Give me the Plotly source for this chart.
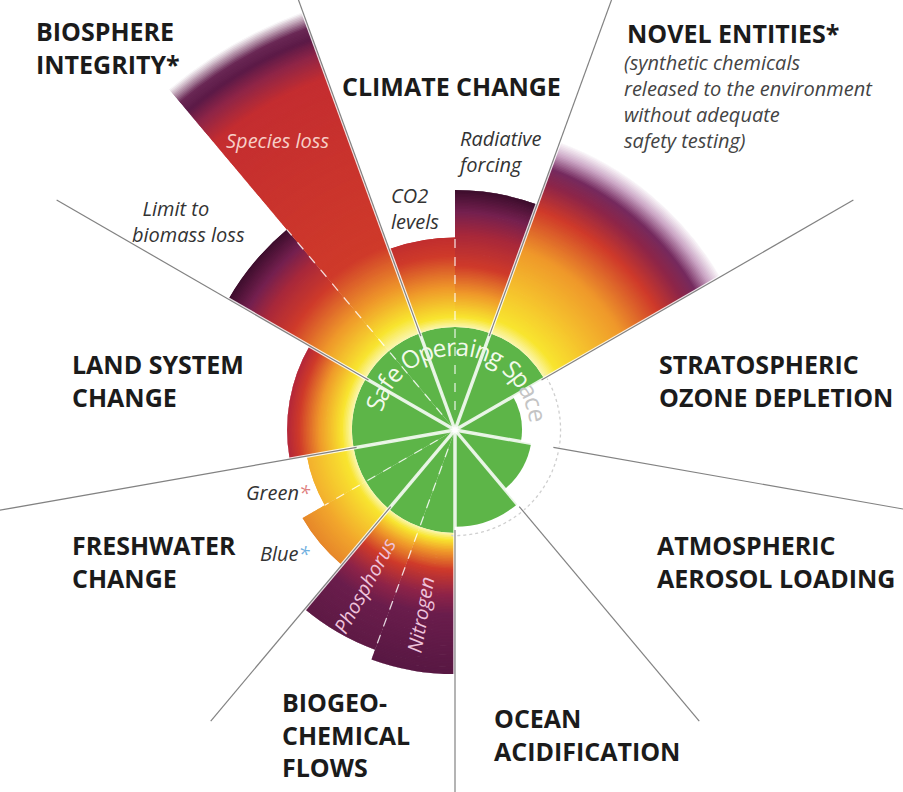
import numpy as np
import plotly.graph_objects as go

# ---------------- data (radial values in multiples of the safe boundary) ----------------
sub_names = ["CO2 levels", "Radiative forcing", "Novel entities", "Ozone depletion",
             "Aerosol loading", "Ocean acidification", "Phosphorus", "Nitrogen",
             "Green water", "Blue water", "Land system change", "Limit to biomass loss",
             "Species loss"]
sub_theta = [100, 80, 50, 10, -30, -70, -120, -100, -160, -140, 170, 140, 120]
sub_width = [20, 20, 40, 40, 40, 40, 20, 20, 20, 20, 40, 20, 20]
sub_value = [1.87, 2.33, 2.97, 0.65, 0.75, 0.94, 2.27, 2.37, 1.46, 1.71, 1.63, 2.54, 4.32]

sector_edges = [110, 70, 30, -10, -50, -90, -130, 190, 150]
sub_dividers = [90, 130, -150, -110]          # dashed lines inside split sectors

category_labels = [
    ["BIOSPHERE", "INTEGRITY*"],
    ["CLIMATE CHANGE"],
    ["NOVEL ENTITIES*"],
    ["LAND SYSTEM", "CHANGE"],
    ["FRESHWATER", "CHANGE"],
    ["STRATOSPHERIC", "OZONE DEPLETION"],
    ["ATMOSPHERIC", "AEROSOL LOADING"],
    ["BIOGEO-", "CHEMICAL", "FLOWS"],
    ["OCEAN", "ACIDIFICATION"],
]
novel_note = ["(synthetic chemicals", "released to the environment",
              "without adequate", "safety testing)"]
safe_text = "Safe Operaing Space"

# ---------------- style ----------------
W, H = 903, 792
CX, CY = 455, 430          # centre in pixels
PX = 103.0                 # pixels per boundary unit
GREEN = "#5db548"
GLOW, YEL, YO, ORA, RED, CRIM, PUR, DARK = ("#fbf6b0", "#f8e52f", "#f5c02d", "#ef982a",
                                            "#cf3a2a", "#a8283a", "#74204f", "#3c0d2c")
grad = {
    "CO2 levels": [(103, GLOW), (113, YEL), (142, ORA), (174, RED), (193, "#c02d2f")],
    "Radiative forcing": [(103, GLOW), (113, YEL), (137, ORA), (164, RED), (195, CRIM),
                          (218, PUR), (240, DARK)],
    "Novel entities": [(103, GLOW), (117, YEL), (152, YO), (192, ORA), (235, RED),
                       (262, "#8e2548"), (278, "#752a5e"), (293, "#c9a3c3"), (307, "#ffffff")],
    "Phosphorus": [(103, GLOW), (110, YEL), (125, ORA), (145, RED), (170, "#8e2348"),
                   (190, "#6a1d4c"), (234, "#5e1a45")],
    "Nitrogen": [(103, GLOW), (110, YEL), (122, ORA), (140, RED), (165, "#8e2348"),
                 (185, "#6a1d4c"), (244, "#581843")],
    "Green water": [(103, GLOW), (112, YEL), (150, "#f3b02e")],
    "Blue water": [(103, GLOW), (112, YEL), (150, "#f2a62c"), (176, "#e6872a")],
    "Land system change": [(103, GLOW), (113, YEL), (136, ORA), (156, RED), (168, "#b3263a")],
    "Limit to biomass loss": [(103, GLOW), (116, YEL), (152, ORA), (190, RED), (220, CRIM),
                              (240, PUR), (262, DARK)],
    "Species loss": [(103, GLOW), (120, YEL), (152, ORA), (196, RED), (375, "#c42d30"),
                     (400, "#8e2547"), (416, "#5c1a47"), (428, "#6a2855"), (445, "#ffffff")],
}
line_len = {110: 460, 70: 460, 30: 460, -10: 460, -50: 380, -90: 380, -130: 380,
            190: 465, 150: 460}
# label placement: left edge x, centre y of each line (pixels from top-left)
category_pos = [(37, [33, 62]), (343, [86]), (628, [33]), (73, [364, 397]),
                (73, [546, 577]), (660, [365, 396]), (658, [546, 577]),
                (283, [701, 735, 766]), (495, [717, 751])]


def hex2rgb(h):
    h = h.lstrip("#")
    return np.array([int(h[i:i + 2], 16) for i in (0, 2, 4)], float)


def color_at(stops, rpx):
    rs = [s[0] for s in stops]
    if rpx <= rs[0]:
        c = hex2rgb(stops[0][1])
    elif rpx >= rs[-1]:
        c = hex2rgb(stops[-1][1])
    else:
        i = np.searchsorted(rs, rpx) - 1
        t = (rpx - rs[i]) / (rs[i + 1] - rs[i])
        c = hex2rgb(stops[i][1]) * (1 - t) + hex2rgb(stops[i + 1][1]) * t
    return "rgb(%d,%d,%d)" % tuple(np.round(c).astype(int))


fig = go.Figure()

# safe operating space (green) part of each wedge
fig.add_trace(go.Barpolar(
    theta=sub_theta, r=[min(v, 1.0) for v in sub_value], width=sub_width,
    marker=dict(color=GREEN, line=dict(width=0)), subplot="polar", hoverinfo="skip"))

# transgressed parts drawn as radial gradients
DR = 1.5
for name, th, wd, v in zip(sub_names, sub_theta, sub_width, sub_value):
    if v <= 1.0:
        continue
    stops = grad[name]
    r_px = np.arange(PX, v * PX, DR)
    bases = r_px / PX
    lens = np.minimum(DR + 0.9, v * PX - r_px) / PX
    cols = [color_at(stops, rp + DR / 2) for rp in r_px]
    fig.add_trace(go.Barpolar(
        theta=[th] * len(r_px), base=bases, r=lens, width=[wd] * len(r_px),
        marker=dict(color=cols, line=dict(width=0)),
        subplot="polar2" if name == "Species loss" else "polar", hoverinfo="skip"))

# dotted boundary arc for sectors inside the safe space
arc_t = np.linspace(-92, 32, 120)
fig.add_trace(go.Scatterpolar(theta=arc_t, r=[1.025] * len(arc_t), mode="lines",
                              line=dict(color="#cfcfcf", width=1.3, dash="dot"),
                              subplot="polar", hoverinfo="skip"))

# invisible cartesian trace so the pixel-space axes exist for shapes/annotations
fig.add_trace(go.Scatter(x=[None], y=[None], xaxis="x", yaxis="y", hoverinfo="skip"))

shapes = []
for a in sector_edges:
    L = line_len[a]
    ca, sa = np.cos(np.radians(a)), np.sin(np.radians(a))
    shapes.append(dict(type="line", xref="x", yref="y", x0=0, y0=0, x1=L * ca, y1=L * sa,
                       line=dict(color="rgba(255,255,255,0.85)", width=3.5), layer="above"))
    shapes.append(dict(type="line", xref="x", yref="y", x0=PX * 0.97 * ca, y0=PX * 0.97 * sa,
                       x1=L * ca, y1=L * sa,
                       line=dict(color="#828282", width=1.2), layer="above"))
for a in sub_dividers:
    near = [v for th, wd, v in zip(sub_theta, sub_width, sub_value)
            if wd == 20 and abs(((th - a + 180) % 360) - 180) == 10]
    L = min(near) * PX
    ca, sa = np.cos(np.radians(a)), np.sin(np.radians(a))
    shapes.append(dict(type="line", xref="x", yref="y", x0=20 * ca, y0=20 * sa,
                       x1=L * ca, y1=L * sa,
                       line=dict(color="rgba(255,255,255,0.8)", width=1.3, dash="dash"),
                       layer="above"))

ann = []


def P(px, py):
    return px - CX, CY - py


BOLD = dict(family="Open Sans", size=25, color="#1b1b1b")
ITAL = 20

for lines, (lx, ys) in zip(category_labels, category_pos):
    x, y = P(lx - 3, float(np.mean(ys)))
    ann.append(dict(x=x, y=y, xref="x", yref="y",
                    text="<br>".join("<b>%s</b>" % t for t in lines),
                    showarrow=False, xanchor="left", yanchor="middle", align="left",
                    font=BOLD))

x, y = P(622, 101)
ann.append(dict(x=x, y=y, xref="x", yref="y",
                text="<br>".join("<i>%s</i>" % t for t in novel_note), showarrow=False,
                xanchor="left", yanchor="middle", align="left",
                font=dict(family="Open Sans", size=ITAL, color="#444444")))

sub_labels = [
    ("Species loss", 277, 140, "center", 0, "#f7cfc7"),
    ("&nbsp;&nbsp;Limit to<br>biomass loss", 130, 221, "left", 0, "#333333"),
    ("CO2<br>levels", 389, 208.5, "left", 0, "#333333"),
    ("Radiative<br>forcing", 455, 151.5, "left", 0, "#333333"),
    ("Green<span style='color:#e08080'>*</span>", 313, 492, "right", 0, "#333333"),
    ("Blue<span style='color:#70b0e0'>*</span>", 313, 553, "right", 0, "#333333"),
    ("Phosphorus", 364, 586, "center", -61, "#efc3dc"),
    ("Nitrogen", 420, 615, "center", -80, "#efc3dc"),
]
for txt, px, py, xa, ang, col in sub_labels:
    x, y = P(px, py)
    ann.append(dict(x=x, y=y, xref="x", yref="y",
                    text="<br>".join("<i>%s</i>" % t for t in txt.split("<br>")),
                    showarrow=False, xanchor=xa, yanchor="middle", textangle=ang,
                    align="left",
                    font=dict(family="Open Sans", size=ITAL, color=col)))

# curved "Safe Operaing Space" text
cw = {"S": .55, "a": .56, "f": .33, "e": .56, " ": .26, "O": .78, "p": .61, "r": .41,
      "i": .26, "n": .61, "g": .55, "c": .48}
FS, RT, PHI0 = 24.5, 84.0, 86.0
total = sum(cw[c] for c in safe_text) * FS / RT
start = np.radians(PHI0) + total / 2
cum = 0.0
for ch in safe_text:
    w = cw[ch] * FS / RT
    phi = start - cum - w / 2
    cum += w
    if ch == " ":
        continue
    deg = np.degrees(phi)
    col = "#c4c4c4" if deg < 30 else "#f2faea"
    ann.append(dict(x=RT * np.cos(phi), y=RT * np.sin(phi), xref="x", yref="y", text=ch,
                    showarrow=False, xanchor="center", yanchor="middle",
                    textangle=90 - deg,
                    font=dict(family="Open Sans", size=FS, color=col)))

polar_common = dict(
    bgcolor="rgba(0,0,0,0)", barmode="overlay",
    angularaxis=dict(visible=False, direction="counterclockwise", rotation=0,
                     showgrid=False, showline=False, ticks=""),
)
R1 = 362.0
R2 = 445.0
s0, s1 = 105, 135
bx0 = min(np.cos(np.radians(s0)), np.cos(np.radians(s1)), 0)
by1 = max(np.sin(np.radians(s0)), np.sin(np.radians(s1)), 0)

fig.update_layout(
    width=W, height=H, margin=dict(l=0, r=0, t=0, b=0),
    paper_bgcolor="white", plot_bgcolor="rgba(0,0,0,0)", showlegend=False,
    xaxis=dict(visible=False, range=[-CX, W - CX], domain=[0, 1], fixedrange=True),
    yaxis=dict(visible=False, range=[-(H - CY), CY], domain=[0, 1], fixedrange=True),
    polar=dict(domain=dict(x=[(CX - R1) / W, (CX + R1) / W], y=[0, 2 * R1 / H]),
               radialaxis=dict(visible=False, range=[0, R1 / PX], showgrid=False),
               **polar_common),
    polar2=dict(domain=dict(x=[(CX + R2 * bx0) / W, CX / W],
                            y=[(H - CY) / H, (H - CY + R2 * by1) / H]),
                sector=[s0, s1],
                radialaxis=dict(visible=False, range=[0, R2 / PX], showgrid=False),
                **polar_common),
    shapes=shapes, annotations=ann,
)

fig.write_html("out.html", config={"displayModeBar": False},
               post_script="document.body.style.margin='0';"
                           "document.body.style.overflow='hidden';")
